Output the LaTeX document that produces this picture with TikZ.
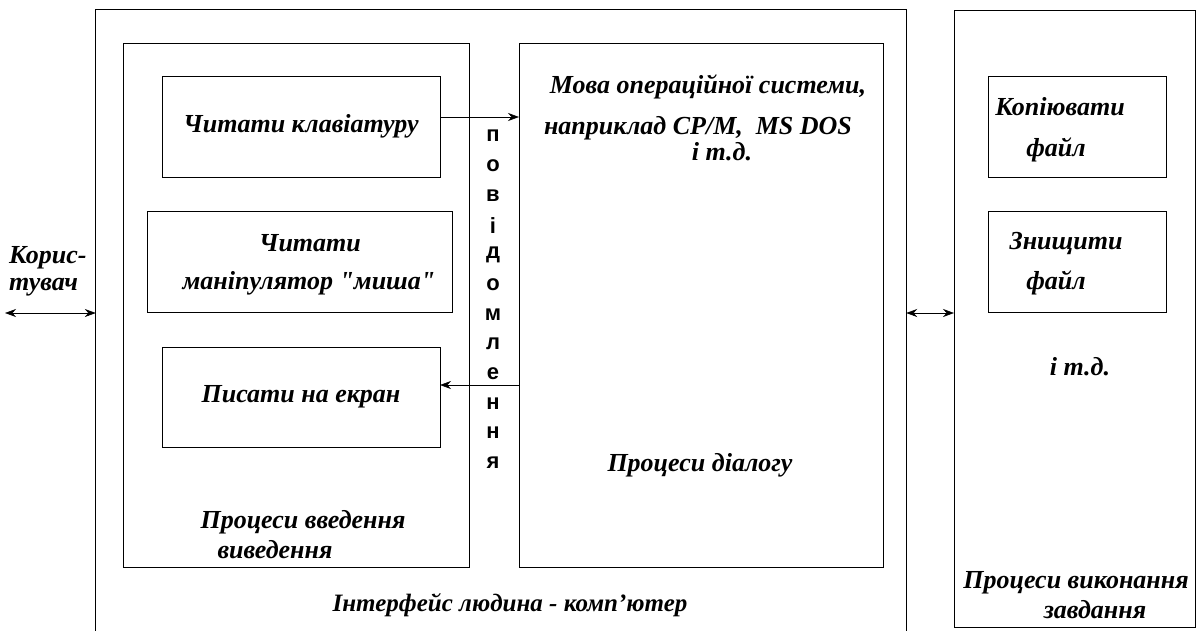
\documentclass[tikz,border=0pt]{standalone}
\usepackage{fontspec}
\setmainfont{Liberation Serif}[Ligatures=TeXOff]
\newfontfamily\vertfont{Liberation Sans}
\usetikzlibrary{arrows.meta}

\begin{document}
\begin{tikzpicture}[x=1pt,y=-1pt,
  frame/.style={draw, line width=0.8pt, inner sep=0pt, outer sep=0pt},
  lbl/.style={font={\bfseries\itshape\fontsize{26}{27}\selectfont}, align=center, inner sep=0pt},
  letter/.style={font={\vertfont\bfseries\fontsize{22}{22}\selectfont}, inner sep=0pt},
  arr/.style={-{Stealth[length=11pt,width=8pt]}, line width=0.6pt},
  darr/.style={{Stealth[length=11pt,width=8pt]}-{Stealth[length=11pt,width=8pt]}, line width=0.6pt}]
\useasboundingbox (0,0) rectangle (1201,630);
% outer frames
\node[minimum width=810, minimum height=630, inner sep=0pt] (iface) at (501,325) {};
\draw[line width=0.8pt] (iface.south west) |- (iface.north east) -- (iface.south east);
\node[frame, minimum width=241, minimum height=617] (task) at (1074.5,318.5) {};
\node[frame, minimum width=346, minimum height=524] (inout) at (296,305) {};
\node[frame, minimum width=364, minimum height=524] (dialog) at (701,305) {};
% input / output processes
\node[frame, lbl, minimum width=278, minimum height=101] (rdkey) at (301,126.5) {Читати клавіатуру};
\node[frame, minimum width=305, minimum height=101] (rdmouse) at (299.5,261.5) {};
\node[lbl] (mouseA) at (310,243) {Читати};
\node[lbl] (mouseB) at (309,283) {маніпулятор "миша"};
\node[frame, lbl, minimum width=278, minimum height=100] (wrscr) at (301,397) {Писати на екран};
\node[lbl] (inoutA) at (303,522) {Процеси введення};
\node[lbl] (inoutB) at (275,550) {виведення};
% dialog
\node[lbl] (osA) at (708,87) {Мова операційної системи,};
\node[lbl] (osB) at (698,128) {наприклад CP/M,\ \ MS DOS};
\node[lbl] (osC) at (722,152) {і т.д.};
\node[lbl] (dlgname) at (700,465) {Процеси діалогу};
% message letters
\foreach \ch [count=\i from 0] in {п,о,в,і,д,о,м,л,е,н,н,я}
  \node[letter] (msg\i) at (493,{136+29.7*\i}) {\ch};
% task processes
\node[frame, minimum width=178, minimum height=101] (copyf) at (1077,126.5) {};
\node[lbl] (copyA) at (1060,107) {Копіювати};
\node[lbl] (copyB) at (1056,150) {файл};
\node[frame, minimum width=178, minimum height=101] (delf) at (1077,261.5) {};
\node[lbl] (delA) at (1066,243) {Знищити};
\node[lbl] (delB) at (1056,283) {файл};
\node[lbl] (etc) at (1080,367) {і т.д.};
\node[lbl] (taskA) at (1076,583) {Процеси виконання};
\node[lbl] (taskB) at (1095,610) {завдання};
% interface title and user
\node[lbl, font={\bfseries\itshape\fontsize{25}{27}\selectfont}] (ifname) at (510,605) {Інтерфейс людина - комп’ютер};
\node[lbl, align=left, anchor=west] (user) at (9,271) {Корис-\\тувач};
% connectors
\coordinate (usr) at (5,313);
\coordinate (sendA) at (rdkey.east |- 0,117);
\coordinate (backA) at (dialog.west |- 0,385);
\draw[darr] (usr) -- (usr -| iface.west);
\draw[darr] (iface.east |- usr) -- (task.west |- usr);
\draw[arr] (sendA) -- (sendA -| dialog.west);
\draw[arr] (backA) -- (backA -| wrscr.east);
\end{tikzpicture}
\end{document}
